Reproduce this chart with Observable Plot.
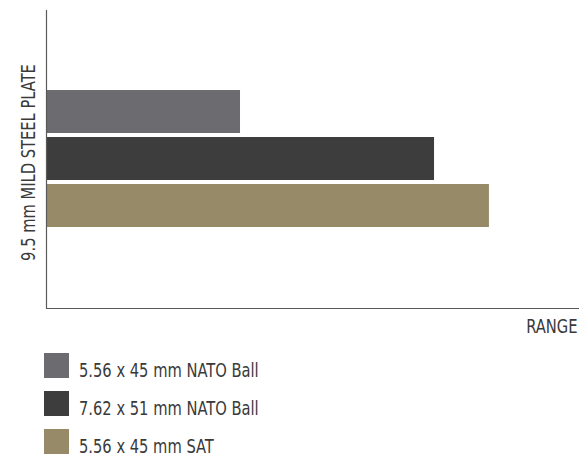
<!DOCTYPE html>
<html>
<head>
<meta charset="utf-8">
<script src="https://cdn.jsdelivr.net/npm/d3@7"></script>
<script src="https://cdn.jsdelivr.net/npm/@observablehq/plot@0.6"></script>
<style>
  html, body { margin: 0; padding: 0; background: #fff; }
  body { width: 579px; height: 462px; overflow: hidden; font-family: "DejaVu Sans Condensed", "Liberation Sans Narrow", sans-serif; color: #3a3a3a; }
  svg { display: block; }
</style>
</head>
<body>
<div id="chart"></div>
<div id="legend"></div>
<script>
const category = "9.5 mm MILD STEEL PLATE";
const series = ["5.56 x 45 mm NATO Ball", "7.62 x 51 mm NATO Ball", "5.56 x 45 mm SAT"];
const values = [36.4, 72.8, 83.1];
const colors = ["#6b6b70", "#3d3d3d", "#968a68"];
const xLabel = "RANGE";

const FONT = '"DejaVu Sans Condensed", "Liberation Sans Narrow", sans-serif';
const SQUEEZE = 0.86;
const data = series.map((s, i) => ({series: s, value: values[i]}));

const plot = Plot.plot({
  width: 579,
  height: 345,
  marginLeft: 46,
  marginRight: 0,
  marginTop: 10,
  marginBottom: 37,
  style: {fontFamily: FONT, color: "#3a3a3a", background: "#fff"},
  x: {domain: [0, 100], axis: null},
  y: {domain: series, range: [86, 231], padding: 0.08, axis: null},
  color: {domain: series, range: colors},
  marks: [
    Plot.barX(data, {x: "value", y: "series", fill: "series"}),
    Plot.ruleX([0], {stroke: "#5a5a5a", strokeWidth: 1.2}),
    Plot.frame({anchor: "bottom", stroke: "#5a5a5a", strokeWidth: 1.2}),
    Plot.text([category], {text: d => d, frameAnchor: "left", rotate: -90, textAnchor: "middle", dx: -18, dy: 3, fontSize: 19, fill: "#3a3a3a"}),
    Plot.text([xLabel], {text: d => d, frameAnchor: "bottom-right", dy: 24, dx: -2, textAnchor: "end", fontSize: 19, fill: "#3a3a3a"})
  ]
});
document.getElementById("chart").appendChild(plot);

// legend below the chart
const lsvg = d3.select("#legend").append("svg")
  .attr("width", 579).attr("height", 117)
  .style("font-family", FONT);
const rows = lsvg.selectAll("g").data(series).join("g")
  .attr("transform", (d, i) => `translate(0, ${8 + i * 38})`);
rows.append("rect")
  .attr("x", 44).attr("y", 0).attr("width", 25).attr("height", 25)
  .attr("fill", (d, i) => colors[i]);
rows.append("text")
  .attr("x", 79).attr("y", 24)
  .attr("font-size", 19).attr("fill", "#3a3a3a")
  .text(d => d);

// horizontally condense all texts to mimic the narrow typeface
document.querySelectorAll("svg text").forEach(t => {
  const w = t.getComputedTextLength();
  if (w <= 0) return;
  const len = w * SQUEEZE;
  // convert end-anchored text to start-anchored, shifted by its condensed length
  const anchor = t.getAttribute("text-anchor") || (t.parentNode && t.parentNode.getAttribute && t.parentNode.getAttribute("text-anchor"));
  if (anchor === "end") {
    t.setAttribute("text-anchor", "start");
    t.setAttribute("dx", (-len).toFixed(1));
  }
  t.setAttribute("textLength", len.toFixed(1));
  t.setAttribute("lengthAdjust", "spacingAndGlyphs");
});
</script>
</body>
</html>
